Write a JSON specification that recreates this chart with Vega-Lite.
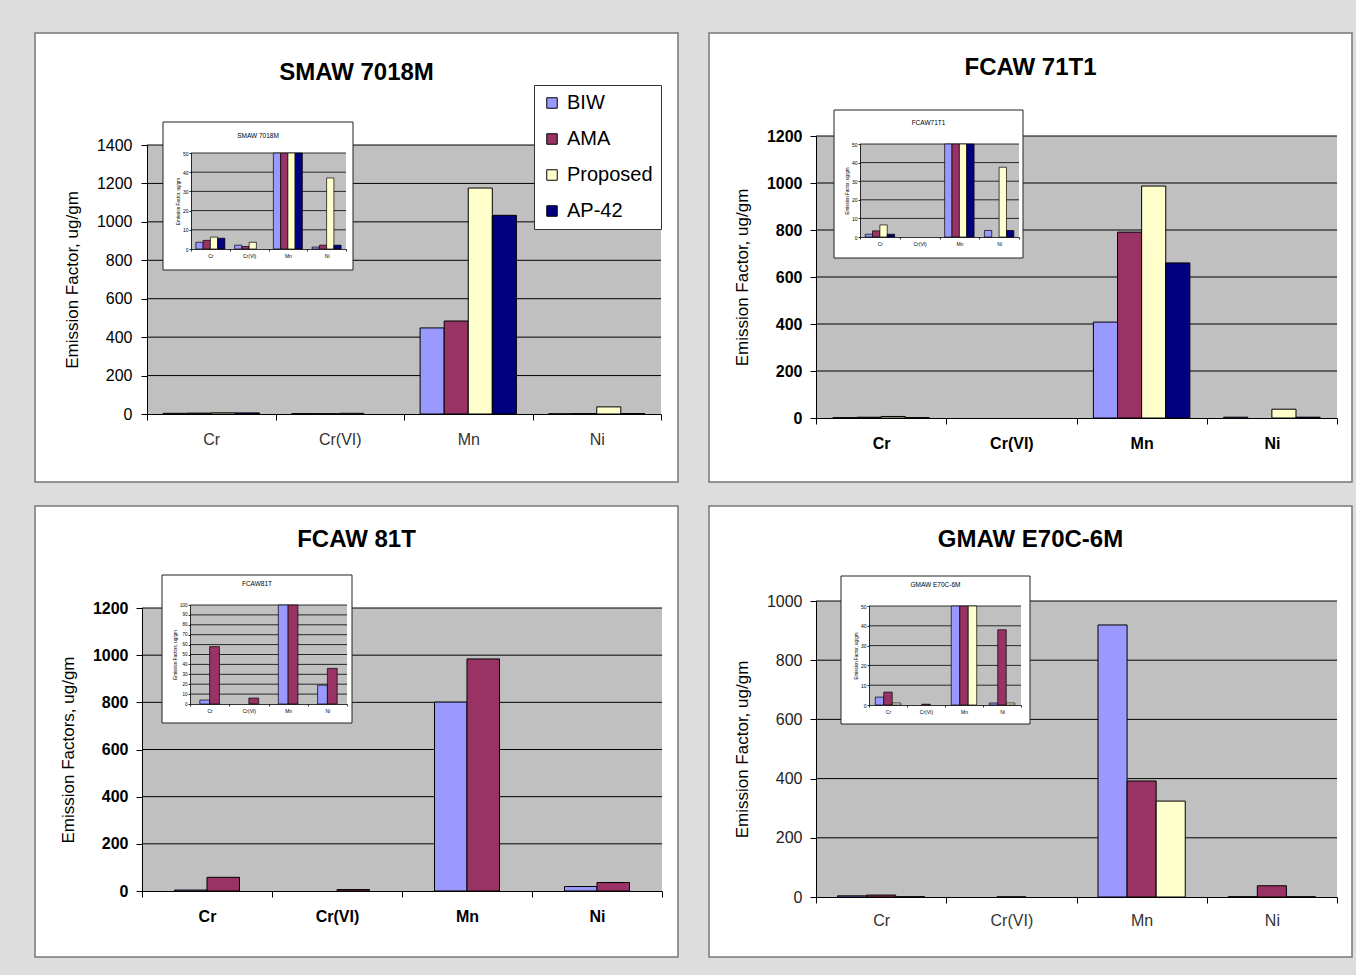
{
  "$schema": "https://vega.github.io/schema/vega-lite/v6.json",
  "background": "#dddddd",
  "padding": {"left": 34, "top": 32, "right": 5, "bottom": 19},
  "datasets": {
    "smaw": [
      {"metal": "Cr", "source": "BIW", "value": 3.5},
      {"metal": "Cr", "source": "AMA", "value": 4.5},
      {"metal": "Cr", "source": "Proposed", "value": 6.2},
      {"metal": "Cr", "source": "AP-42", "value": 5.6},
      {"metal": "Cr(VI)", "source": "BIW", "value": 2},
      {"metal": "Cr(VI)", "source": "AMA", "value": 1.3},
      {"metal": "Cr(VI)", "source": "Proposed", "value": 3.5},
      {"metal": "Mn", "source": "BIW", "value": 448},
      {"metal": "Mn", "source": "AMA", "value": 484},
      {"metal": "Mn", "source": "Proposed", "value": 1176},
      {"metal": "Mn", "source": "AP-42", "value": 1034},
      {"metal": "Ni", "source": "BIW", "value": 1},
      {"metal": "Ni", "source": "AMA", "value": 2},
      {"metal": "Ni", "source": "Proposed", "value": 37},
      {"metal": "Ni", "source": "AP-42", "value": 2}
    ],
    "fcaw71": [
      {"metal": "Cr", "source": "BIW", "value": 1.5},
      {"metal": "Cr", "source": "AMA", "value": 3.3},
      {"metal": "Cr", "source": "Proposed", "value": 6.5},
      {"metal": "Cr", "source": "AP-42", "value": 1.5},
      {"metal": "Mn", "source": "BIW", "value": 408},
      {"metal": "Mn", "source": "AMA", "value": 791},
      {"metal": "Mn", "source": "Proposed", "value": 987},
      {"metal": "Mn", "source": "AP-42", "value": 660},
      {"metal": "Ni", "source": "BIW", "value": 3.5},
      {"metal": "Ni", "source": "Proposed", "value": 37.5},
      {"metal": "Ni", "source": "AP-42", "value": 3.5}
    ],
    "fcaw81": [
      {"metal": "Cr", "source": "BIW", "value": 4},
      {"metal": "Cr", "source": "AMA", "value": 58},
      {"metal": "Cr(VI)", "source": "AMA", "value": 6},
      {"metal": "Mn", "source": "BIW", "value": 801},
      {"metal": "Mn", "source": "AMA", "value": 984},
      {"metal": "Ni", "source": "BIW", "value": 19},
      {"metal": "Ni", "source": "AMA", "value": 36}
    ],
    "gmaw": [
      {"metal": "Cr", "source": "BIW", "value": 4},
      {"metal": "Cr", "source": "AMA", "value": 6.5},
      {"metal": "Cr", "source": "Proposed", "value": 1},
      {"metal": "Cr(VI)", "source": "AMA", "value": 0.4},
      {"metal": "Mn", "source": "BIW", "value": 919},
      {"metal": "Mn", "source": "AMA", "value": 392},
      {"metal": "Mn", "source": "Proposed", "value": 324},
      {"metal": "Ni", "source": "BIW", "value": 1},
      {"metal": "Ni", "source": "AMA", "value": 38},
      {"metal": "Ni", "source": "Proposed", "value": 1}
    ]
  },
  "config": {
    "view": {"fill": "white", "stroke": "#777777", "strokeWidth": 1.5},
    "font": "Liberation Sans",
    "axis": {
      "domainColor": "black", "tickColor": "black", "labelColor": "black", "titleColor": "black",
      "labelFont": "Liberation Sans", "titleFont": "Liberation Sans", "titleFontWeight": "normal",
      "grid": false, "labelFlush": false, "labelOverlap": false, "labelBound": false
    },
    "title": {"font": "Liberation Sans", "fontWeight": "bold", "fontSize": 24, "color": "black", "anchor": "middle", "frame": "group"}
  },
  "bounds": "flush",
  "columns": 2,
  "spacing": {"row": 24, "column": 31},
  "concat": [
        {
          "width": 643, "height": 449,
          "title": {"text": "SMAW 7018M", "offset": -52},
          "resolve": {"scale": {"x": "independent", "y": "independent", "xOffset": "independent"}, "axis": {"x": "independent", "y": "independent"}},
          "layer": [
            {"data": {"values": [{}]}, "mark": {"type": "rect", "fill": "#c0c0c0"},
             "encoding": {
               "x": {"datum": 0, "type": "quantitative", "scale": {"domain": [0, 1], "range": [112, 626]}, "axis": null},
               "x2": {"datum": 1},
               "y": {"datum": 0, "type": "quantitative", "scale": {"domain": [0, 1400], "range": [381, 112], "nice": false}, "axis": null},
               "y2": {"datum": 1400}}},
            {"data": {"values": [{"v": 200}, {"v": 400}, {"v": 600}, {"v": 800}, {"v": 1000}, {"v": 1200}, {"v": 1400}]},
             "mark": {"type": "rule", "color": "black", "strokeWidth": 1},
             "encoding": {
               "x": {"datum": 0, "type": "quantitative", "scale": {"domain": [0, 1], "range": [112, 626]}, "axis": null},
               "x2": {"datum": 1},
               "y": {"field": "v", "type": "quantitative", "scale": {"domain": [0, 1400], "range": [381, 112], "nice": false}, "axis": null}}},
            {"data": {"name": "smaw"}, "mark": {"type": "bar", "stroke": "black", "strokeWidth": 1},
             "encoding": {
               "x": {"field": "metal", "type": "nominal", "scale": {"domain": ["Cr", "Cr(VI)", "Mn", "Ni"], "range": [112, 626], "paddingInner": 0, "paddingOuter": 0},
                     "axis": {"orient": "bottom", "offset": -68, "zindex": 1, "tickBand": "extent", "labelAngle": 0, "tickSize": 6, "labelFontSize": 16, "labelColor": "#333333", "labelPadding": 11, "title": null}},
               "xOffset": {"field": "source", "type": "nominal", "scale": {"domain": ["BIW", "AMA", "Proposed", "AP-42"], "paddingInner": 0, "paddingOuter": 0.67}},
               "y": {"field": "value", "type": "quantitative", "scale": {"domain": [0, 1400], "range": [381, 112], "nice": false},
                     "axis": {"orient": "left", "offset": -112, "zindex": 1, "values": [0, 200, 400, 600, 800, 1000, 1200, 1400], "format": "d", "tickSize": 6, "labelFontSize": 16, "labelPadding": 9, "title": "Emission Factor, ug/gm", "titleFontSize": 17, "titlePadding": 15}},
               "color": {"field": "source", "type": "nominal",
                         "scale": {"domain": ["BIW", "AMA", "Proposed", "AP-42"], "range": ["#9999FF", "#993366", "#FFFFCC", "#000080"]},
                         "legend": {"orient": "none", "legendX": 499, "legendY": 52, "title": null, "symbolType": "square", "symbolSize": 110, "symbolStrokeColor": "black", "symbolStrokeWidth": 1, "labelFontSize": 20, "labelFont": "Liberation Sans", "labelColor": "black", "rowPadding": 16, "padding": 8, "strokeColor": "#333333", "fillColor": "white", "labelOffset": 5, "labelLimit": 300}}}},
            {"data": {"values": [{}]}, "mark": {"type": "rect", "fill": "white", "stroke": "#222222", "strokeWidth": 1},
             "encoding": {
               "x": {"datum": 0, "type": "quantitative", "scale": {"domain": [0, 1], "range": [128, 318]}, "axis": null},
               "x2": {"datum": 1},
               "y": {"datum": 0, "type": "quantitative", "scale": {"domain": [0, 1], "range": [237, 89]}, "axis": null},
               "y2": {"datum": 1}}},
            {"data": {"values": [{}]}, "mark": {"type": "rect", "fill": "#c0c0c0"},
             "encoding": {
               "x": {"datum": 0, "type": "quantitative", "scale": {"domain": [0, 1], "range": [156, 311]}, "axis": null},
               "x2": {"datum": 1},
               "y": {"datum": 0, "type": "quantitative", "scale": {"domain": [0, 50], "range": [216, 120], "nice": false}, "axis": null},
               "y2": {"datum": 50}}},
            {"data": {"values": [{"v": 10}, {"v": 20}, {"v": 30}, {"v": 40}, {"v": 50}]},
             "mark": {"type": "rule", "color": "black", "strokeWidth": 0.8},
             "encoding": {
               "x": {"datum": 0, "type": "quantitative", "scale": {"domain": [0, 1], "range": [156, 311]}, "axis": null},
               "x2": {"datum": 1},
               "y": {"field": "v", "type": "quantitative", "scale": {"domain": [0, 50], "range": [216, 120], "nice": false}, "axis": null}}},
            {"data": {"name": "smaw"}, "mark": {"type": "bar", "stroke": "black", "strokeWidth": 0.7},
             "encoding": {
               "x": {"field": "metal", "type": "nominal", "scale": {"domain": ["Cr", "Cr(VI)", "Mn", "Ni"], "range": [156, 311], "paddingInner": 0, "paddingOuter": 0},
                     "axis": {"orient": "bottom", "offset": -233, "zindex": 2, "tickBand": "extent", "labelAngle": 0, "tickSize": 2, "labelFontSize": 5, "labelPadding": 2, "domainWidth": 0.8, "tickWidth": 0.8, "title": null}},
               "xOffset": {"field": "source", "type": "nominal", "scale": {"domain": ["BIW", "AMA", "Proposed", "AP-42"], "paddingInner": 0, "paddingOuter": 0.67}},
               "y": {"field": "value", "type": "quantitative", "scale": {"domain": [0, 50], "range": [216, 120], "nice": false, "clamp": true},
                     "axis": {"orient": "left", "offset": -156, "zindex": 2, "values": [0, 10, 20, 30, 40, 50], "tickSize": 2, "labelFontSize": 5, "labelPadding": 1, "domainWidth": 0.8, "tickWidth": 0.8, "title": "Emission Factor, ug/gm", "titleFontSize": 4.5, "titlePadding": 2}},
               "color": {"field": "source", "type": "nominal", "legend": null}}},
            {"data": {"values": [{}]}, "mark": {"type": "text", "fontSize": 6.5, "baseline": "middle", "align": "center", "color": "black"},
             "encoding": {
               "x": {"datum": 0.5, "type": "quantitative", "scale": {"domain": [0, 1], "range": [128, 318]}, "axis": null},
               "y": {"datum": 0.905, "type": "quantitative", "scale": {"domain": [0, 1], "range": [237, 89]}, "axis": null},
               "text": {"value": "SMAW 7018M"}}}
          ]
        },
        {
          "width": 643, "height": 449,
          "title": {"text": "FCAW 71T1", "offset": -47},
          "resolve": {"scale": {"x": "independent", "y": "independent", "xOffset": "independent"}, "axis": {"x": "independent", "y": "independent"}},
          "layer": [
            {"data": {"values": [{}]}, "mark": {"type": "rect", "fill": "#c0c0c0"},
             "encoding": {
               "x": {"datum": 0, "type": "quantitative", "scale": {"domain": [0, 1], "range": [107, 628]}, "axis": null},
               "x2": {"datum": 1},
               "y": {"datum": 0, "type": "quantitative", "scale": {"domain": [0, 1200], "range": [385, 103], "nice": false}, "axis": null},
               "y2": {"datum": 1200}}},
            {"data": {"values": [{"v": 200}, {"v": 400}, {"v": 600}, {"v": 800}, {"v": 1000}, {"v": 1200}]},
             "mark": {"type": "rule", "color": "black", "strokeWidth": 1},
             "encoding": {
               "x": {"datum": 0, "type": "quantitative", "scale": {"domain": [0, 1], "range": [107, 628]}, "axis": null},
               "x2": {"datum": 1},
               "y": {"field": "v", "type": "quantitative", "scale": {"domain": [0, 1200], "range": [385, 103], "nice": false}, "axis": null}}},
            {"data": {"name": "fcaw71"}, "mark": {"type": "bar", "stroke": "black", "strokeWidth": 1},
             "encoding": {
               "x": {"field": "metal", "type": "nominal", "scale": {"domain": ["Cr", "Cr(VI)", "Mn", "Ni"], "range": [107, 628], "paddingInner": 0, "paddingOuter": 0},
                     "axis": {"orient": "bottom", "offset": -64, "zindex": 1, "tickBand": "extent", "labelAngle": 0, "tickSize": 6, "labelFontSize": 16, "labelFontWeight": "bold", "labelPadding": 11, "title": null}},
               "xOffset": {"field": "source", "type": "nominal", "scale": {"domain": ["BIW", "AMA", "Proposed", "AP-42"], "paddingInner": 0, "paddingOuter": 0.7}},
               "y": {"field": "value", "type": "quantitative", "scale": {"domain": [0, 1200], "range": [385, 103], "nice": false},
                     "axis": {"orient": "left", "offset": -107, "zindex": 1, "values": [0, 200, 400, 600, 800, 1000, 1200], "format": "d", "tickSize": 6, "labelFontSize": 16, "labelFontWeight": "bold", "labelPadding": 8, "title": "Emission Factor, ug/gm", "titleFontSize": 17, "titlePadding": 15}},
               "color": {"field": "source", "type": "nominal", "legend": null}}},
            {"data": {"values": [{}]}, "mark": {"type": "rect", "fill": "white", "stroke": "#222222", "strokeWidth": 1},
             "encoding": {
               "x": {"datum": 0, "type": "quantitative", "scale": {"domain": [0, 1], "range": [125, 314]}, "axis": null},
               "x2": {"datum": 1},
               "y": {"datum": 0, "type": "quantitative", "scale": {"domain": [0, 1], "range": [225, 77]}, "axis": null},
               "y2": {"datum": 1}}},
            {"data": {"values": [{}]}, "mark": {"type": "rect", "fill": "#c0c0c0"},
             "encoding": {
               "x": {"datum": 0, "type": "quantitative", "scale": {"domain": [0, 1], "range": [151, 310]}, "axis": null},
               "x2": {"datum": 1},
               "y": {"datum": 0, "type": "quantitative", "scale": {"domain": [0, 50], "range": [204, 111], "nice": false}, "axis": null},
               "y2": {"datum": 50}}},
            {"data": {"values": [{"v": 10}, {"v": 20}, {"v": 30}, {"v": 40}, {"v": 50}]},
             "mark": {"type": "rule", "color": "black", "strokeWidth": 0.8},
             "encoding": {
               "x": {"datum": 0, "type": "quantitative", "scale": {"domain": [0, 1], "range": [151, 310]}, "axis": null},
               "x2": {"datum": 1},
               "y": {"field": "v", "type": "quantitative", "scale": {"domain": [0, 50], "range": [204, 111], "nice": false}, "axis": null}}},
            {"data": {"name": "fcaw71"}, "mark": {"type": "bar", "stroke": "black", "strokeWidth": 0.7},
             "encoding": {
               "x": {"field": "metal", "type": "nominal", "scale": {"domain": ["Cr", "Cr(VI)", "Mn", "Ni"], "range": [151, 310], "paddingInner": 0, "paddingOuter": 0},
                     "axis": {"orient": "bottom", "offset": -245, "zindex": 2, "tickBand": "extent", "labelAngle": 0, "tickSize": 2, "labelFontSize": 5, "labelPadding": 2, "domainWidth": 0.8, "tickWidth": 0.8, "title": null}},
               "xOffset": {"field": "source", "type": "nominal", "scale": {"domain": ["BIW", "AMA", "Proposed", "AP-42"], "paddingInner": 0, "paddingOuter": 0.7}},
               "y": {"field": "value", "type": "quantitative", "scale": {"domain": [0, 50], "range": [204, 111], "nice": false, "clamp": true},
                     "axis": {"orient": "left", "offset": -151, "zindex": 2, "values": [0, 10, 20, 30, 40, 50], "tickSize": 2, "labelFontSize": 5, "labelPadding": 1, "domainWidth": 0.8, "tickWidth": 0.8, "title": "Emission Factor, ug/gm", "titleFontSize": 4.5, "titlePadding": 2}},
               "color": {"field": "source", "type": "nominal", "legend": null}}},
            {"data": {"values": [{}]}, "mark": {"type": "text", "fontSize": 6.5, "baseline": "middle", "align": "center", "color": "black"},
             "encoding": {
               "x": {"datum": 0.5, "type": "quantitative", "scale": {"domain": [0, 1], "range": [125, 314]}, "axis": null},
               "y": {"datum": 0.91, "type": "quantitative", "scale": {"domain": [0, 1], "range": [225, 77]}, "axis": null},
               "text": {"value": "FCAW71T1"}}}
          ]
        },
        {
          "width": 643, "height": 451,
          "title": {"text": "FCAW 81T", "offset": -46},
          "resolve": {"scale": {"x": "independent", "y": "independent", "xOffset": "independent"}, "axis": {"x": "independent", "y": "independent"}},
          "layer": [
            {"data": {"values": [{}]}, "mark": {"type": "rect", "fill": "#c0c0c0"},
             "encoding": {
               "x": {"datum": 0, "type": "quantitative", "scale": {"domain": [0, 1], "range": [107, 627]}, "axis": null},
               "x2": {"datum": 1},
               "y": {"datum": 0, "type": "quantitative", "scale": {"domain": [0, 1200], "range": [385, 102], "nice": false}, "axis": null},
               "y2": {"datum": 1200}}},
            {"data": {"values": [{"v": 200}, {"v": 400}, {"v": 600}, {"v": 800}, {"v": 1000}, {"v": 1200}]},
             "mark": {"type": "rule", "color": "black", "strokeWidth": 1},
             "encoding": {
               "x": {"datum": 0, "type": "quantitative", "scale": {"domain": [0, 1], "range": [107, 627]}, "axis": null},
               "x2": {"datum": 1},
               "y": {"field": "v", "type": "quantitative", "scale": {"domain": [0, 1200], "range": [385, 102], "nice": false}, "axis": null}}},
            {"data": {"name": "fcaw81"}, "mark": {"type": "bar", "stroke": "black", "strokeWidth": 1},
             "encoding": {
               "x": {"field": "metal", "type": "nominal", "scale": {"domain": ["Cr", "Cr(VI)", "Mn", "Ni"], "range": [107, 627], "paddingInner": 0, "paddingOuter": 0},
                     "axis": {"orient": "bottom", "offset": -66, "zindex": 1, "tickBand": "extent", "labelAngle": 0, "tickSize": 6, "labelFontSize": 16, "labelFontWeight": "bold", "labelPadding": 11, "title": null}},
               "xOffset": {"field": "source", "type": "nominal", "scale": {"domain": ["BIW", "AMA"], "paddingInner": 0, "paddingOuter": 1}},
               "y": {"field": "value", "type": "quantitative", "scale": {"domain": [0, 1200], "range": [385, 102], "nice": false},
                     "axis": {"orient": "left", "offset": -107, "zindex": 1, "values": [0, 200, 400, 600, 800, 1000, 1200], "format": "d", "tickSize": 6, "labelFontSize": 16, "labelFontWeight": "bold", "labelPadding": 8, "title": "Emission Factors, ug/gm", "titleFontSize": 17, "titlePadding": 15}},
               "color": {"field": "source", "type": "nominal", "legend": null}}},
            {"data": {"values": [{}]}, "mark": {"type": "rect", "fill": "white", "stroke": "#222222", "strokeWidth": 1},
             "encoding": {
               "x": {"datum": 0, "type": "quantitative", "scale": {"domain": [0, 1], "range": [127, 317]}, "axis": null},
               "x2": {"datum": 1},
               "y": {"datum": 0, "type": "quantitative", "scale": {"domain": [0, 1], "range": [217, 69]}, "axis": null},
               "y2": {"datum": 1}}},
            {"data": {"values": [{}]}, "mark": {"type": "rect", "fill": "#c0c0c0"},
             "encoding": {
               "x": {"datum": 0, "type": "quantitative", "scale": {"domain": [0, 1], "range": [155, 312]}, "axis": null},
               "x2": {"datum": 1},
               "y": {"datum": 0, "type": "quantitative", "scale": {"domain": [0, 100], "range": [198, 99], "nice": false}, "axis": null},
               "y2": {"datum": 100}}},
            {"data": {"values": [{"v": 10}, {"v": 20}, {"v": 30}, {"v": 40}, {"v": 50}, {"v": 60}, {"v": 70}, {"v": 80}, {"v": 90}, {"v": 100}]},
             "mark": {"type": "rule", "color": "black", "strokeWidth": 0.8},
             "encoding": {
               "x": {"datum": 0, "type": "quantitative", "scale": {"domain": [0, 1], "range": [155, 312]}, "axis": null},
               "x2": {"datum": 1},
               "y": {"field": "v", "type": "quantitative", "scale": {"domain": [0, 100], "range": [198, 99], "nice": false}, "axis": null}}},
            {"data": {"name": "fcaw81"}, "mark": {"type": "bar", "stroke": "black", "strokeWidth": 0.7},
             "encoding": {
               "x": {"field": "metal", "type": "nominal", "scale": {"domain": ["Cr", "Cr(VI)", "Mn", "Ni"], "range": [155, 312], "paddingInner": 0, "paddingOuter": 0},
                     "axis": {"orient": "bottom", "offset": -253, "zindex": 2, "tickBand": "extent", "labelAngle": 0, "tickSize": 2, "labelFontSize": 5, "labelPadding": 2, "domainWidth": 0.8, "tickWidth": 0.8, "title": null}},
               "xOffset": {"field": "source", "type": "nominal", "scale": {"domain": ["BIW", "AMA"], "paddingInner": 0, "paddingOuter": 1}},
               "y": {"field": "value", "type": "quantitative", "scale": {"domain": [0, 100], "range": [198, 99], "nice": false, "clamp": true},
                     "axis": {"orient": "left", "offset": -155, "zindex": 2, "values": [0, 10, 20, 30, 40, 50, 60, 70, 80, 90, 100], "tickSize": 2, "labelFontSize": 4.5, "labelPadding": 1, "domainWidth": 0.8, "tickWidth": 0.8, "title": "Emission Factors, ug/gm", "titleFontSize": 4.5, "titlePadding": 2}},
               "color": {"field": "source", "type": "nominal", "legend": null}}},
            {"data": {"values": [{}]}, "mark": {"type": "text", "fontSize": 6.5, "baseline": "middle", "align": "center", "color": "black"},
             "encoding": {
               "x": {"datum": 0.5, "type": "quantitative", "scale": {"domain": [0, 1], "range": [127, 317]}, "axis": null},
               "y": {"datum": 0.94, "type": "quantitative", "scale": {"domain": [0, 1], "range": [217, 69]}, "axis": null},
               "text": {"value": "FCAW81T"}}}
          ]
        },
        {
          "width": 643, "height": 451,
          "title": {"text": "GMAW E70C-6M", "offset": -46},
          "resolve": {"scale": {"x": "independent", "y": "independent", "xOffset": "independent"}, "axis": {"x": "independent", "y": "independent"}},
          "layer": [
            {"data": {"values": [{}]}, "mark": {"type": "rect", "fill": "#c0c0c0"},
             "encoding": {
               "x": {"datum": 0, "type": "quantitative", "scale": {"domain": [0, 1], "range": [107, 628]}, "axis": null},
               "x2": {"datum": 1},
               "y": {"datum": 0, "type": "quantitative", "scale": {"domain": [0, 1000], "range": [391, 95], "nice": false}, "axis": null},
               "y2": {"datum": 1000}}},
            {"data": {"values": [{"v": 200}, {"v": 400}, {"v": 600}, {"v": 800}, {"v": 1000}]},
             "mark": {"type": "rule", "color": "black", "strokeWidth": 1},
             "encoding": {
               "x": {"datum": 0, "type": "quantitative", "scale": {"domain": [0, 1], "range": [107, 628]}, "axis": null},
               "x2": {"datum": 1},
               "y": {"field": "v", "type": "quantitative", "scale": {"domain": [0, 1000], "range": [391, 95], "nice": false}, "axis": null}}},
            {"data": {"name": "gmaw"}, "mark": {"type": "bar", "stroke": "black", "strokeWidth": 1},
             "encoding": {
               "x": {"field": "metal", "type": "nominal", "scale": {"domain": ["Cr", "Cr(VI)", "Mn", "Ni"], "range": [107, 628], "paddingInner": 0, "paddingOuter": 0},
                     "axis": {"orient": "bottom", "offset": -60, "zindex": 1, "tickBand": "extent", "labelAngle": 0, "tickSize": 6, "labelFontSize": 16, "labelColor": "#333333", "labelPadding": 9, "title": null}},
               "xOffset": {"field": "source", "type": "nominal", "scale": {"domain": ["BIW", "AMA", "Proposed"], "paddingInner": 0, "paddingOuter": 0.74}},
               "y": {"field": "value", "type": "quantitative", "scale": {"domain": [0, 1000], "range": [391, 95], "nice": false},
                     "axis": {"orient": "left", "offset": -107, "zindex": 1, "values": [0, 200, 400, 600, 800, 1000], "format": "d", "tickSize": 6, "labelFontSize": 16, "labelColor": "#222222", "labelPadding": 8, "title": "Emission Factor, ug/gm", "titleFontSize": 17, "titlePadding": 15}},
               "color": {"field": "source", "type": "nominal", "legend": null}}},
            {"data": {"values": [{}]}, "mark": {"type": "rect", "fill": "white", "stroke": "#222222", "strokeWidth": 1},
             "encoding": {
               "x": {"datum": 0, "type": "quantitative", "scale": {"domain": [0, 1], "range": [132, 321]}, "axis": null},
               "x2": {"datum": 1},
               "y": {"datum": 0, "type": "quantitative", "scale": {"domain": [0, 1], "range": [218, 70]}, "axis": null},
               "y2": {"datum": 1}}},
            {"data": {"values": [{}]}, "mark": {"type": "rect", "fill": "#c0c0c0"},
             "encoding": {
               "x": {"datum": 0, "type": "quantitative", "scale": {"domain": [0, 1], "range": [160, 312]}, "axis": null},
               "x2": {"datum": 1},
               "y": {"datum": 0, "type": "quantitative", "scale": {"domain": [0, 50], "range": [199, 100], "nice": false}, "axis": null},
               "y2": {"datum": 50}}},
            {"data": {"values": [{"v": 10}, {"v": 20}, {"v": 30}, {"v": 40}, {"v": 50}]},
             "mark": {"type": "rule", "color": "black", "strokeWidth": 0.8},
             "encoding": {
               "x": {"datum": 0, "type": "quantitative", "scale": {"domain": [0, 1], "range": [160, 312]}, "axis": null},
               "x2": {"datum": 1},
               "y": {"field": "v", "type": "quantitative", "scale": {"domain": [0, 50], "range": [199, 100], "nice": false}, "axis": null}}},
            {"data": {"name": "gmaw"}, "mark": {"type": "bar", "stroke": "black", "strokeWidth": 0.7},
             "encoding": {
               "x": {"field": "metal", "type": "nominal", "scale": {"domain": ["Cr", "Cr(VI)", "Mn", "Ni"], "range": [160, 312], "paddingInner": 0, "paddingOuter": 0},
                     "axis": {"orient": "bottom", "offset": -252, "zindex": 2, "tickBand": "extent", "labelAngle": 0, "tickSize": 2, "labelFontSize": 5, "labelPadding": 2, "domainWidth": 0.8, "tickWidth": 0.8, "title": null}},
               "xOffset": {"field": "source", "type": "nominal", "scale": {"domain": ["BIW", "AMA", "Proposed"], "paddingInner": 0, "paddingOuter": 0.74}},
               "y": {"field": "value", "type": "quantitative", "scale": {"domain": [0, 50], "range": [199, 100], "nice": false, "clamp": true},
                     "axis": {"orient": "left", "offset": -160, "zindex": 2, "values": [0, 10, 20, 30, 40, 50], "tickSize": 2, "labelFontSize": 5, "labelPadding": 1, "domainWidth": 0.8, "tickWidth": 0.8, "title": "Emission Factor, ug/gm", "titleFontSize": 4.5, "titlePadding": 2}},
               "color": {"field": "source", "type": "nominal", "legend": null}}},
            {"data": {"values": [{}]}, "mark": {"type": "text", "fontSize": 6.5, "baseline": "middle", "align": "center", "color": "black"},
             "encoding": {
               "x": {"datum": 0.5, "type": "quantitative", "scale": {"domain": [0, 1], "range": [132, 321]}, "axis": null},
               "y": {"datum": 0.94, "type": "quantitative", "scale": {"domain": [0, 1], "range": [218, 70]}, "axis": null},
               "text": {"value": "GMAW E70C-6M"}}}
          ]
        }
  ]
}
